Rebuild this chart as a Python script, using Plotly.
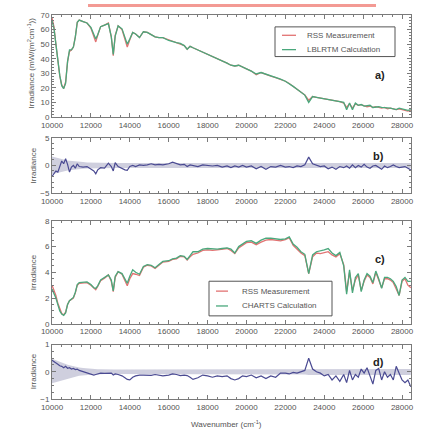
import plotly.graph_objects as go

# ---------------- data ----------------
wn = [10000, 10100, 10200, 10300, 10400, 10500, 10600, 10700, 10800, 10900,
      11000, 11100, 11200, 11300, 11400, 11600, 11800, 12000, 12150, 12250,
      12350, 12500, 12700, 12900, 13050, 13150, 13250, 13400, 13600, 13750,
      13870, 14000, 14150, 14300, 14500, 14700, 14900, 15100, 15300, 15500,
      15700, 16000, 16200, 16400, 16600, 16800, 16950, 17100, 17250, 17500,
      17750, 18000, 18250, 18500, 18750, 19000, 19200, 19400, 19600, 19800,
      20000, 20250, 20500, 20750, 21000, 21250, 21500, 21750, 22000, 22200,
      22400, 22600, 22800, 23000, 23200, 23400, 23600, 23800, 24000, 24200,
      24400, 24600, 24800, 25000, 25150, 25300, 25450, 25600, 25750, 25900,
      26050, 26200, 26350, 26500, 26650, 26800, 26950, 27100, 27250, 27400,
      27550, 27700, 27850, 28000, 28150, 28300, 28450]

rss_a = [68, 62, 50, 38, 28, 22, 19.5, 24, 38, 45,
         46, 48, 55, 65, 66.5, 65.5, 64.5, 61, 55, 51.5,
         56, 62, 63, 64.5, 55, 42, 56, 62.5, 60, 53,
         48, 53, 58, 57, 54.5, 58.5, 58, 56.5, 55, 54.5,
         54.5, 53, 52, 51.5, 50.5, 49, 46.5, 48.5, 47.5, 46,
         44.5, 43, 41.5, 40.5, 38.5, 37, 35.5, 35, 35.5, 34,
         33, 31.5, 29, 30.5, 29, 28, 27, 26, 24.5, 23,
         21, 19, 17, 15, 11.5, 14, 13.5, 13, 12.8, 12,
         11.5, 11, 10.5, 9.5, 6.5, 9, 6, 9, 8, 8.5,
         7.5, 7, 7.5, 6.5, 7, 6.5, 6, 6.5, 5.5, 6,
         5.5, 5, 5.5, 5, 4.5, 4, 4.5]

lbl_a = [66, 61, 50, 38.5, 28.5, 21.5, 19.5, 23, 38, 46,
         46, 48, 55, 65, 66.5, 65.5, 64.5, 61.5, 56, 53.5,
         56.5, 62, 63, 64, 55, 43, 55.5, 62.5, 60.5, 54,
         50, 53.5, 58, 57, 54.5, 58.5, 58, 56.5, 55, 54.5,
         54.5, 52.5, 51.5, 51, 50.5, 49, 46.5, 48.5, 47.5, 46,
         44.5, 43, 41.5, 40.5, 38.5, 37, 35.5, 35, 35.5, 34,
         33, 31.5, 29.5, 30.5, 29.5, 28, 27, 26, 24.5, 23,
         21, 19, 17, 15, 10, 14, 13.5, 13, 12.8, 12.5,
         11.5, 11.5, 10.5, 10, 5, 9.5, 5, 9.5, 8, 8.5,
         7.5, 7.5, 8, 6.5, 7, 7, 6.5, 6.5, 6, 6,
         5.5, 5, 6, 5.5, 4.5, 4.5, 5]

diff_b = [-2.0, -1.6, -1.0, -1.2, -0.3, 0.8, 0.3, 1.2, 0.2, -1.2,
          -0.3, 0.0, -0.5, 0.3, -0.2, -0.3, -0.2, -0.6, -1.0, -1.5,
          -0.8, -0.4, -0.5, 0.4, -0.2, -1.0, 0.5, -0.2, -0.6, -0.8,
          -0.9, -0.2, 0.0, -0.2, 0.1, 0.0, 0.1, 0.3, 0.1, 0.2,
          0.1, 0.3, 0.6, 0.4, 0.1, 0.2, -0.2, 0.1, 0.0, -0.2,
          0.1, 0.0, -0.1, 0.0, -0.3, -0.1, -0.4, -0.1, -0.3, 0.0,
          -0.3, -0.1, -0.6, -0.2, -0.7, -0.2, -0.3, 0.0, -0.3, -0.2,
          -0.4, -0.1, -0.2, 0.1, 1.5, 0.3, 0.0, -0.2, -0.1, -0.6,
          -0.3, -0.7, -0.2, -0.4, -0.1, -0.5, 0.1, -0.4, 0.0, -0.3,
          0.2, -0.3, -0.5, -0.1, 0.0, -0.3, -0.7, -0.1, -0.4, -0.2,
          0.1, -0.2, -0.4, -0.3, -0.2, -0.5, -0.8]

unc_b_hi = [1.6, 1.5, 1.4, 1.3, 1.2, 1.1, 1.0, 0.95, 0.9, 0.85,
            0.8, 0.75, 0.7, 0.68, 0.65, 0.6, 0.55, 0.52, 0.5, 0.5,
            0.48, 0.47, 0.46, 0.45, 0.45, 0.45, 0.45, 0.45, 0.45, 0.45,
            0.45, 0.45, 0.45, 0.45, 0.45, 0.45, 0.45, 0.45, 0.45, 0.45,
            0.45, 0.45, 0.45, 0.45, 0.45, 0.45, 0.45, 0.45, 0.45, 0.45,
            0.45, 0.45, 0.45, 0.45, 0.45, 0.45, 0.45, 0.45, 0.45, 0.45,
            0.45, 0.45, 0.45, 0.45, 0.45, 0.45, 0.45, 0.45, 0.45, 0.45,
            0.45, 0.45, 0.45, 0.45, 0.45, 0.45, 0.45, 0.45, 0.45, 0.45,
            0.45, 0.45, 0.45, 0.45, 0.45, 0.45, 0.45, 0.45, 0.45, 0.45,
            0.45, 0.45, 0.45, 0.45, 0.45, 0.45, 0.45, 0.45, 0.45, 0.45,
            0.45, 0.45, 0.45, 0.45, 0.45, 0.45, 0.45]
unc_b_lo = [-1.6, -1.5, -1.4, -1.3, -1.2, -1.1, -1.0, -0.95, -0.9, -0.85,
            -0.8, -0.75, -0.7, -0.68, -0.65, -0.6, -0.55, -0.52, -0.5, -0.5,
            -0.48, -0.47, -0.46, -0.45, -0.45, -0.45, -0.45, -0.45, -0.45, -0.45,
            -0.45, -0.45, -0.45, -0.45, -0.45, -0.45, -0.45, -0.45, -0.45, -0.45,
            -0.45, -0.45, -0.45, -0.45, -0.45, -0.45, -0.45, -0.45, -0.45, -0.45,
            -0.45, -0.45, -0.45, -0.45, -0.45, -0.45, -0.45, -0.45, -0.45, -0.45,
            -0.45, -0.45, -0.45, -0.45, -0.45, -0.45, -0.45, -0.45, -0.45, -0.45,
            -0.45, -0.45, -0.45, -0.45, -0.45, -0.45, -0.45, -0.45, -0.45, -0.45,
            -0.45, -0.45, -0.45, -0.45, -0.45, -0.45, -0.45, -0.45, -0.45, -0.45,
            -0.45, -0.45, -0.45, -0.45, -0.45, -0.45, -0.45, -0.45, -0.45, -0.45,
            -0.45, -0.45, -0.45, -0.45, -0.45, -0.45, -0.45]

rss_c = [3.0, 2.6, 2.2, 1.6, 1.1, 0.8, 0.7, 0.9, 1.5, 1.8,
         1.9, 2.0, 2.4, 3.0, 3.15, 3.2, 3.2, 3.0, 2.75, 2.65,
         2.9, 3.35, 3.55, 3.8, 3.3, 2.5, 3.6, 4.05, 3.85, 3.4,
         2.95, 3.5, 3.9, 3.85, 3.75, 4.4, 4.55, 4.5, 4.3, 4.55,
         4.8, 4.85, 5.0, 5.05, 5.25, 5.2, 4.95, 5.2, 5.4, 5.5,
         5.7, 5.75, 5.7, 5.75, 5.8, 5.85, 5.7, 5.45, 5.9, 6.1,
         6.3, 6.35, 6.15, 6.35, 6.5, 6.55, 6.5, 6.45, 6.55, 6.7,
         6.1, 5.8, 5.5, 5.3, 3.9, 5.2, 5.5, 5.45, 5.5, 5.6,
         5.35, 5.2, 5.45, 4.6, 2.5, 4.0, 2.6, 3.4, 3.8, 2.6,
         3.3, 3.8, 3.6, 3.1, 4.0, 3.4, 2.8, 3.5, 3.5, 3.4,
         3.2, 2.7, 2.2, 3.3, 3.5, 3.0, 2.8]

charts_c = [2.7, 2.4, 2.0, 1.5, 1.0, 0.75, 0.65, 0.85, 1.5, 1.8,
            1.95, 2.05, 2.45, 3.05, 3.2, 3.25, 3.25, 3.05, 2.8, 2.75,
            2.95, 3.4, 3.6, 3.8, 3.4, 2.55, 3.7, 4.05, 3.9, 3.5,
            3.15, 3.7, 4.2, 4.0, 3.85, 4.45, 4.6, 4.55, 4.35, 4.6,
            4.85, 4.9, 5.05, 5.1, 5.3, 5.25, 5.0, 5.3, 5.6, 5.6,
            5.8, 5.85, 5.8, 5.8, 5.85, 5.9, 5.8, 5.5, 6.0, 6.2,
            6.4, 6.45, 6.25, 6.5, 6.65, 6.65, 6.6, 6.55, 6.6, 6.75,
            6.2, 5.95, 5.6, 5.4, 3.9, 5.35, 5.6, 5.65, 5.75, 5.85,
            5.5, 5.3, 5.55, 4.5, 2.3, 4.2, 2.4, 3.6, 3.9, 2.5,
            3.4, 3.9, 3.7, 3.2, 4.1, 3.5, 2.75, 3.6, 3.6, 3.5,
            3.3, 2.9, 2.2, 3.4, 3.6, 3.3, 3.3]

diff_d = [0.42, 0.38, 0.32, 0.28, 0.22, 0.2, 0.15, 0.2, 0.13, 0.15,
          0.1, 0.12, 0.08, 0.1, 0.05, 0.0, -0.05, -0.1, -0.12, -0.1,
          -0.08, -0.05, -0.06, -0.04, -0.05, -0.12, -0.08, -0.1, -0.15, -0.22,
          -0.28, -0.3, -0.2, -0.15, -0.12, -0.12, -0.12, -0.13, -0.1, -0.12,
          -0.15, -0.12, -0.08, -0.1, -0.14, -0.12, -0.14, -0.2, -0.28, -0.22,
          -0.12, -0.15, -0.2, -0.15, -0.18, -0.15, -0.25, -0.3, -0.25, -0.15,
          -0.18, -0.12, -0.22, -0.15, -0.25, -0.15, -0.2, -0.05, -0.05, -0.08,
          -0.02, -0.05, 0.0, 0.05, 0.5, 0.1, 0.0, -0.05, -0.15, -0.1,
          -0.3, -0.15, -0.35, -0.1, -0.4, 0.05, -0.3, -0.1, -0.2, 0.1,
          -0.05, 0.15, -0.15, -0.45, 0.05, 0.12, -0.3, 0.0, -0.2, -0.1,
          -0.3, 0.2, -0.05, -0.3, -0.4, -0.3, -0.55]

unc_d_hi = [0.48, 0.45, 0.42, 0.39, 0.36, 0.33, 0.3, 0.28, 0.26, 0.24,
            0.22, 0.2, 0.19, 0.17, 0.16, 0.14, 0.12, 0.11, 0.1, 0.1,
            0.09, 0.09, 0.08, 0.08, 0.08, 0.08, 0.08, 0.08, 0.08, 0.08,
            0.08, 0.08, 0.08, 0.08, 0.08, 0.08, 0.08, 0.08, 0.08, 0.08,
            0.08, 0.08, 0.08, 0.08, 0.08, 0.08, 0.08, 0.08, 0.08, 0.08,
            0.08, 0.08, 0.08, 0.08, 0.08, 0.08, 0.08, 0.08, 0.08, 0.08,
            0.08, 0.08, 0.08, 0.08, 0.08, 0.08, 0.08, 0.08, 0.09, 0.09,
            0.09, 0.09, 0.1, 0.1, 0.1, 0.1, 0.1, 0.1, 0.1, 0.1,
            0.1, 0.1, 0.1, 0.1, 0.1, 0.1, 0.1, 0.1, 0.1, 0.1,
            0.1, 0.1, 0.1, 0.1, 0.1, 0.1, 0.1, 0.1, 0.1, 0.1,
            0.1, 0.1, 0.1, 0.1, 0.1, 0.1, 0.1]
unc_d_lo = [-0.42, -0.4, -0.38, -0.35, -0.32, -0.3, -0.28, -0.26, -0.24, -0.22,
            -0.2, -0.19, -0.17, -0.16, -0.15, -0.13, -0.12, -0.11, -0.1, -0.1,
            -0.09, -0.09, -0.08, -0.08, -0.08, -0.08, -0.08, -0.08, -0.08, -0.08,
            -0.08, -0.08, -0.08, -0.08, -0.08, -0.08, -0.08, -0.08, -0.08, -0.08,
            -0.08, -0.08, -0.08, -0.08, -0.08, -0.08, -0.08, -0.08, -0.08, -0.08,
            -0.08, -0.08, -0.08, -0.08, -0.08, -0.08, -0.08, -0.08, -0.08, -0.08,
            -0.08, -0.08, -0.08, -0.08, -0.08, -0.08, -0.08, -0.08, -0.09, -0.09,
            -0.09, -0.09, -0.1, -0.1, -0.12, -0.12, -0.12, -0.12, -0.12, -0.12,
            -0.12, -0.12, -0.12, -0.12, -0.12, -0.12, -0.12, -0.12, -0.12, -0.12,
            -0.12, -0.12, -0.12, -0.12, -0.12, -0.12, -0.12, -0.12, -0.12, -0.12,
            -0.12, -0.12, -0.12, -0.12, -0.12, -0.12, -0.12]

x_ticks = [10000, 12000, 14000, 16000, 18000, 20000, 22000, 24000, 26000, 28000]
legend_a_names = ["RSS Measurement", "LBLRTM Calculation"]
legend_c_names = ["RSS Measurement", "CHARTS Calculation"]

# ---------------- styling ----------------
RED = "#e27272"
GREEN = "#4aa87c"
BLUE = "#4a4a92"
BAND = "rgba(175,175,200,0.6)"
AX = "#7a7a7a"
TXT = "#555555"
FONT = "Liberation Sans, Arial, sans-serif"

# page-pixel helpers (plot area: x 52..411, y 11..399)
def px(xp):
    return (xp - 52) / 359.0

def py(yp):
    return 1 - (yp - 11) / 388.0

fig = go.Figure()

# panel a
fig.add_trace(go.Scatter(x=wn, y=rss_a, mode="lines", name=legend_a_names[0],
                         line=dict(color=RED, width=1.3), xaxis="x", yaxis="y"))
fig.add_trace(go.Scatter(x=wn, y=lbl_a, mode="lines", name=legend_a_names[1],
                         line=dict(color=GREEN, width=1.3), xaxis="x", yaxis="y"))
# panel b
fig.add_trace(go.Scatter(x=wn, y=unc_b_hi, mode="lines", line=dict(width=0, color=BAND),
                         xaxis="x2", yaxis="y2", hoverinfo="skip"))
fig.add_trace(go.Scatter(x=wn, y=unc_b_lo, mode="lines", line=dict(width=0, color=BAND),
                         fill="tonexty", fillcolor=BAND,
                         xaxis="x2", yaxis="y2", hoverinfo="skip"))
fig.add_trace(go.Scatter(x=wn, y=diff_b, mode="lines", line=dict(color=BLUE, width=1.2),
                         xaxis="x2", yaxis="y2"))
# panel c
fig.add_trace(go.Scatter(x=wn, y=rss_c, mode="lines", name=legend_c_names[0],
                         line=dict(color=RED, width=1.3), xaxis="x3", yaxis="y3"))
fig.add_trace(go.Scatter(x=wn, y=charts_c, mode="lines", name=legend_c_names[1],
                         line=dict(color=GREEN, width=1.3), xaxis="x3", yaxis="y3"))
# panel d
fig.add_trace(go.Scatter(x=wn, y=unc_d_hi, mode="lines", line=dict(width=0, color=BAND),
                         xaxis="x4", yaxis="y4", hoverinfo="skip"))
fig.add_trace(go.Scatter(x=wn, y=unc_d_lo, mode="lines", line=dict(width=0, color=BAND),
                         fill="tonexty", fillcolor=BAND,
                         xaxis="x4", yaxis="y4", hoverinfo="skip"))
fig.add_trace(go.Scatter(x=wn, y=diff_d, mode="lines", line=dict(color=BLUE, width=1.2),
                         xaxis="x4", yaxis="y4"))


def xax(anchor):
    return dict(range=[10000, 28460], tickvals=x_ticks, tickformat="d", anchor=anchor,
                showline=True, linecolor=AX, linewidth=1, mirror="allticks",
                ticks="inside", ticklen=4, tickcolor=AX, showgrid=False, zeroline=False,
                tickfont=dict(size=8, color=TXT, family=FONT),
                minor=dict(dtick=500, ticks="inside", ticklen=2, tickcolor=AX, showgrid=False))


def yax(anchor, rng, dtick, mdtick, dom):
    return dict(range=rng, dtick=dtick, anchor=anchor, domain=dom,
                showline=True, linecolor=AX, linewidth=1, mirror="allticks",
                ticks="inside", ticklen=4, tickcolor=AX, showgrid=False, zeroline=False,
                tickfont=dict(size=8, color=TXT, family=FONT),
                minor=dict(dtick=mdtick, ticks="inside", ticklen=2, tickcolor=AX, showgrid=False))


fig.update_layout(
    width=428, height=435,
    margin=dict(l=52, r=17, t=11, b=36),
    paper_bgcolor="white", plot_bgcolor="white",
    font=dict(family=FONT, color=TXT),
    xaxis=xax("y"), yaxis=yax("x", [0, 70], 10, 2, [py(114), 1.0]),
    xaxis2=xax("y2"), yaxis2=yax("x2", [-5, 5], 5, 1, [py(191), py(135)]),
    xaxis3=xax("y3"), yaxis3=yax("x3", [0, 8], 2, 0.5, [py(323), py(219)]),
    xaxis4=xax("y4"), yaxis4=yax("x4", [-1, 1], 1, 0.25, [0.0, py(344)]),
    showlegend=False,
)

# titles and panel labels
ann = [
    dict(text="Irradiance (mW/(m<sup>2</sup>cm<sup>-1</sup>))", x=px(31), y=py(60),
         textangle=-90, font=dict(size=8, color=TXT)),
    dict(text="Irradiance", x=px(33), y=py(163), textangle=-90, font=dict(size=8, color=TXT)),
    dict(text="Irradiance", x=px(33), y=py(271), textangle=-90, font=dict(size=8, color=TXT)),
    dict(text="Irradiance", x=px(33), y=py(371), textangle=-90, font=dict(size=8, color=TXT)),
    dict(text="Wavenumber (cm<sup>-1</sup>)", x=px(226), y=py(424), font=dict(size=8, color=TXT)),
    dict(text="<b>a)</b>", x=px(380), y=py(72), font=dict(size=11, color="#222222")),
    dict(text="<b>b)</b>", x=px(378), y=py(153), font=dict(size=11, color="#222222")),
    dict(text="<b>c)</b>", x=px(380), y=py(258), font=dict(size=11, color="#222222")),
    dict(text="<b>d)</b>", x=px(378), y=py(362), font=dict(size=11, color="#222222")),
]
# hand-drawn legends (short line samples as in the reference)
shapes = []
legends = [
    (275, 395, 23, 53, 282, 296, 305, [31.5, 46], legend_a_names),
    (209, 332, 280, 315, 216, 228, 240, [290, 305], legend_c_names),
]
for (bx0, bx1, by0, by1, lx0, lx1, tx, rows, names) in legends:
    shapes.append(dict(type="rect", xref="paper", yref="paper",
                       x0=px(bx0), x1=px(bx1), y0=py(by1), y1=py(by0),
                       fillcolor="white", line=dict(color="#555555", width=1)))
    for row, name, col in zip(rows, names, [RED, GREEN]):
        shapes.append(dict(type="line", xref="paper", yref="paper",
                           x0=px(lx0), x1=px(lx1), y0=py(row), y1=py(row),
                           line=dict(color=col, width=1.3)))
        ann.append(dict(text=name, x=px(tx), y=py(row), xanchor="left",
                        font=dict(size=8, color=TXT)))

for a in ann:
    a.setdefault("xanchor", "center")
    a.update(xref="paper", yref="paper", showarrow=False, yanchor="middle")

# salmon highlight bar at the very top of the page
shapes.append(dict(type="rect", xref="paper", yref="paper", x0=px(88), x1=px(376),
                   y0=py(3), y1=py(0), fillcolor="#f39a94", line=dict(width=0)))
fig.update_layout(annotations=ann, shapes=shapes)

fig.write_html("out.html", config={"displayModeBar": False},
               post_script="document.body.style.margin='0px';")
